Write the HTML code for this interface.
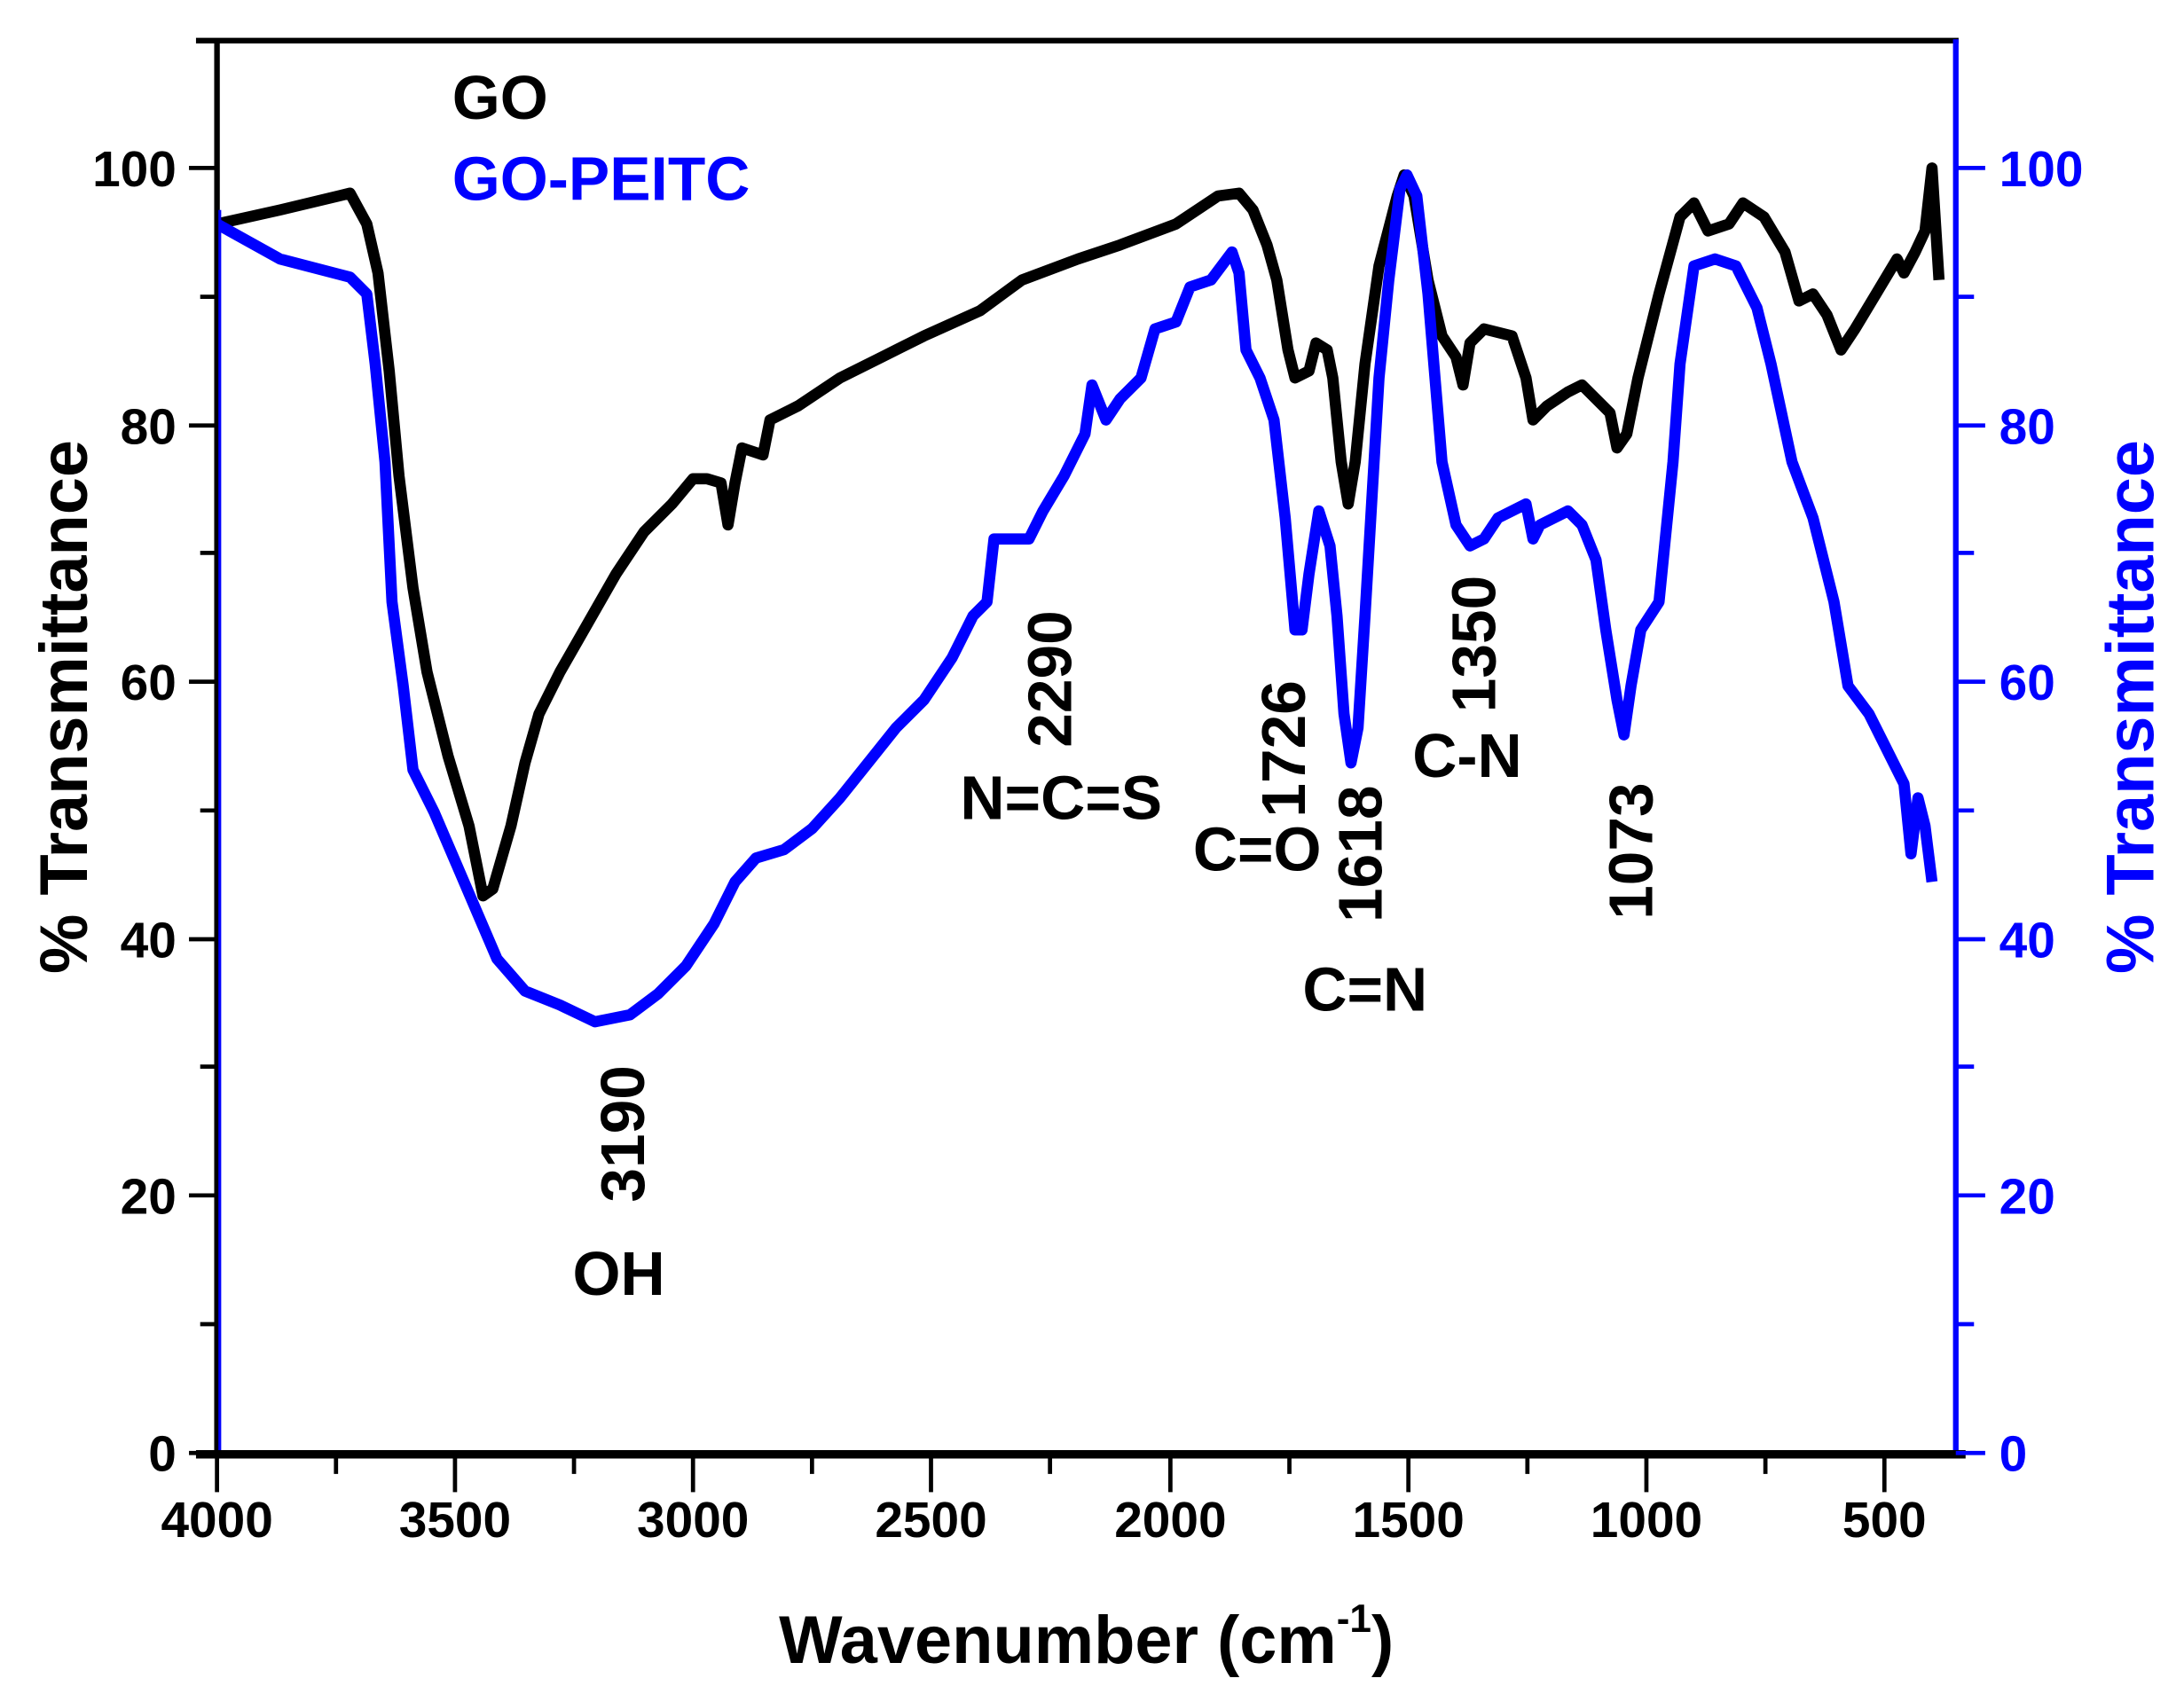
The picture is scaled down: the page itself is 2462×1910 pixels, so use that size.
<!DOCTYPE html>
<html><head><meta charset="utf-8"><style>html,body{margin:0;padding:0;background:#fff}svg{display:block}</style></head>
<body>
<svg xmlns="http://www.w3.org/2000/svg" width="2462" height="1910" viewBox="0 0 1560 1210.2" font-family="Liberation Sans, Arial, sans-serif" font-weight="bold">
<rect width="1560" height="1211" fill="#fff"/>
<!-- curves -->
<polyline fill="none" stroke="#000" stroke-width="8" stroke-linejoin="round" points="155,160 200,150 250,138 262,160 270,195 278,265 285,340 295,420 305,480 320,540 335,590 345,640 352,635 365,590 375,545 385,510 400,480 420,445 440,410 460,380 480,360 495,342 505,342 515,345 520,375 525,345 530,320 545,325 550,300 570,290 600,270 630,255 660,240 700,222 730,200 770,185 800,175 840,160 870,140 885,138 895,150 905,175 912,200 920,250 925,270 935,265 940,245 948,250 952,270 958,330 963,360 968,330 975,260 985,190 998,140 1003,125 1010,140 1020,200 1030,240 1040,255 1045,275 1050,245 1060,235 1080,240 1090,270 1095,300 1105,290 1120,280 1130,275 1140,285 1150,295 1155,320 1162,310 1170,270 1185,210 1200,155 1210,145 1220,165 1235,160 1245,145 1260,155 1275,180 1285,215 1295,210 1305,225 1315,250 1325,235 1340,210 1355,185 1360,195 1368,180 1375,165 1380,120 1385,200"/>
<polyline fill="none" stroke="#00f" stroke-width="8" stroke-linejoin="round" points="155,160 200,185 250,198 262,210 268,260 275,330 280,430 288,490 295,550 310,580 325,615 340,650 355,685 375,708 400,718 425,730 450,725 470,710 490,690 510,660 525,630 540,613 560,607 580,592 600,570 620,545 640,520 660,500 680,470 695,440 705,430 710,385 735,385 745,365 760,340 775,310 780,275 790,300 800,285 815,270 825,235 840,230 850,205 865,200 880,180 885,195 890,250 900,270 910,300 918,370 925,450 930,450 935,410 942,365 950,390 955,440 960,510 965,545 970,520 975,440 985,270 992,200 1000,135 1005,125 1012,140 1020,210 1030,330 1040,375 1050,390 1060,385 1070,370 1090,360 1095,385 1100,375 1110,370 1120,365 1130,375 1140,400 1147,450 1155,500 1160,525 1165,490 1172,450 1185,430 1195,330 1200,260 1210,190 1225,185 1240,190 1255,220 1265,260 1280,330 1295,370 1310,430 1320,490 1335,510 1350,540 1360,560 1365,610 1370,570 1375,590 1380,630"/>
<!-- axes -->
<line x1="140" y1="29" x2="1399" y2="29" stroke="#000" stroke-width="4"/>
<line x1="155" y1="28" x2="155" y2="1040" stroke="#000" stroke-width="4"/>
<line x1="157" y1="150" x2="157" y2="1040" stroke="#00f" stroke-width="2"/>
<line x1="1397" y1="28" x2="1397" y2="1040" stroke="#00f" stroke-width="4"/>
<line x1="140" y1="1039" x2="1404" y2="1039" stroke="#000" stroke-width="6"/>
<g stroke="#000" stroke-width="3">
<line x1="135" y1="1038" x2="155" y2="1038"/><line x1="135" y1="854" x2="155" y2="854"/><line x1="135" y1="671" x2="155" y2="671"/><line x1="135" y1="487" x2="155" y2="487"/><line x1="135" y1="304" x2="155" y2="304"/><line x1="135" y1="120" x2="155" y2="120"/>
<line x1="143" y1="946" x2="155" y2="946"/><line x1="143" y1="762" x2="155" y2="762"/><line x1="143" y1="579" x2="155" y2="579"/><line x1="143" y1="395" x2="155" y2="395"/><line x1="143" y1="212" x2="155" y2="212"/>
<line x1="155" y1="1040" x2="155" y2="1066"/><line x1="325" y1="1040" x2="325" y2="1066"/><line x1="495" y1="1040" x2="495" y2="1066"/><line x1="665" y1="1040" x2="665" y2="1066"/><line x1="836" y1="1040" x2="836" y2="1066"/><line x1="1006" y1="1040" x2="1006" y2="1066"/><line x1="1176" y1="1040" x2="1176" y2="1066"/><line x1="1346" y1="1040" x2="1346" y2="1066"/>
<line x1="240" y1="1040" x2="240" y2="1053"/><line x1="410" y1="1040" x2="410" y2="1053"/><line x1="580" y1="1040" x2="580" y2="1053"/><line x1="750" y1="1040" x2="750" y2="1053"/><line x1="921" y1="1040" x2="921" y2="1053"/><line x1="1091" y1="1040" x2="1091" y2="1053"/><line x1="1261" y1="1040" x2="1261" y2="1053"/>
</g>
<g stroke="#00f" stroke-width="3">
<line x1="1397" y1="1038" x2="1418" y2="1038"/><line x1="1397" y1="854" x2="1418" y2="854"/><line x1="1397" y1="671" x2="1418" y2="671"/><line x1="1397" y1="487" x2="1418" y2="487"/><line x1="1397" y1="304" x2="1418" y2="304"/><line x1="1397" y1="120" x2="1418" y2="120"/>
<line x1="1397" y1="946" x2="1410" y2="946"/><line x1="1397" y1="762" x2="1410" y2="762"/><line x1="1397" y1="579" x2="1410" y2="579"/><line x1="1397" y1="395" x2="1410" y2="395"/><line x1="1397" y1="212" x2="1410" y2="212"/>
</g>
<!-- tick labels -->
<g font-size="36" text-anchor="end">
<text x="126" y="1051">0</text><text x="126" y="867">20</text><text x="126" y="684">40</text><text x="126" y="500">60</text><text x="126" y="317">80</text><text x="126" y="133">100</text>
</g>
<g font-size="36" fill="#00f">
<text x="1428" y="1051">0</text><text x="1428" y="867">20</text><text x="1428" y="684">40</text><text x="1428" y="500">60</text><text x="1428" y="317">80</text><text x="1428" y="133">100</text>
</g>
<g font-size="36" text-anchor="middle">
<text x="155" y="1098">4000</text><text x="325" y="1098">3500</text><text x="495" y="1098">3000</text><text x="665" y="1098">2500</text><text x="836" y="1098">2000</text><text x="1006" y="1098">1500</text><text x="1176" y="1098">1000</text><text x="1346" y="1098">500</text>
</g>
<!-- axis titles -->
<text x="776" y="1188" font-size="48" text-anchor="middle">Wavenumber (cm<tspan font-size="28" dy="-22">-1</tspan><tspan dy="22">)</tspan></text>
<text transform="translate(62,505) rotate(-90)" font-size="48" text-anchor="middle">% Transmittance</text>
<text transform="translate(1538,505) rotate(-90)" font-size="48" text-anchor="middle" fill="#00f">% Transmittance</text>
<!-- legend -->
<text x="323" y="85" font-size="44">GO</text>
<text x="323" y="143" font-size="44" fill="#00f">GO-PEITC</text>
<!-- annotations -->
<g font-size="44">
<text transform="translate(460,810) rotate(-90)" text-anchor="middle">3190</text>
<text x="442" y="925" text-anchor="middle">OH</text>
<text transform="translate(765,485) rotate(-90)" text-anchor="middle">2290</text>
<text x="758" y="585" text-anchor="middle">N=C=S</text>
<text transform="translate(932,535) rotate(-90)" text-anchor="middle">1726</text>
<text x="898" y="622" text-anchor="middle">C=O</text>
<text transform="translate(987,610) rotate(-90)" text-anchor="middle">1618</text>
<text x="975" y="722" text-anchor="middle">C=N</text>
<text transform="translate(1068,460) rotate(-90)" text-anchor="middle">1350</text>
<text x="1048" y="555" text-anchor="middle">C-N</text>
<text transform="translate(1180,608) rotate(-90)" text-anchor="middle">1073</text>
</g>
</svg>
</body></html>
